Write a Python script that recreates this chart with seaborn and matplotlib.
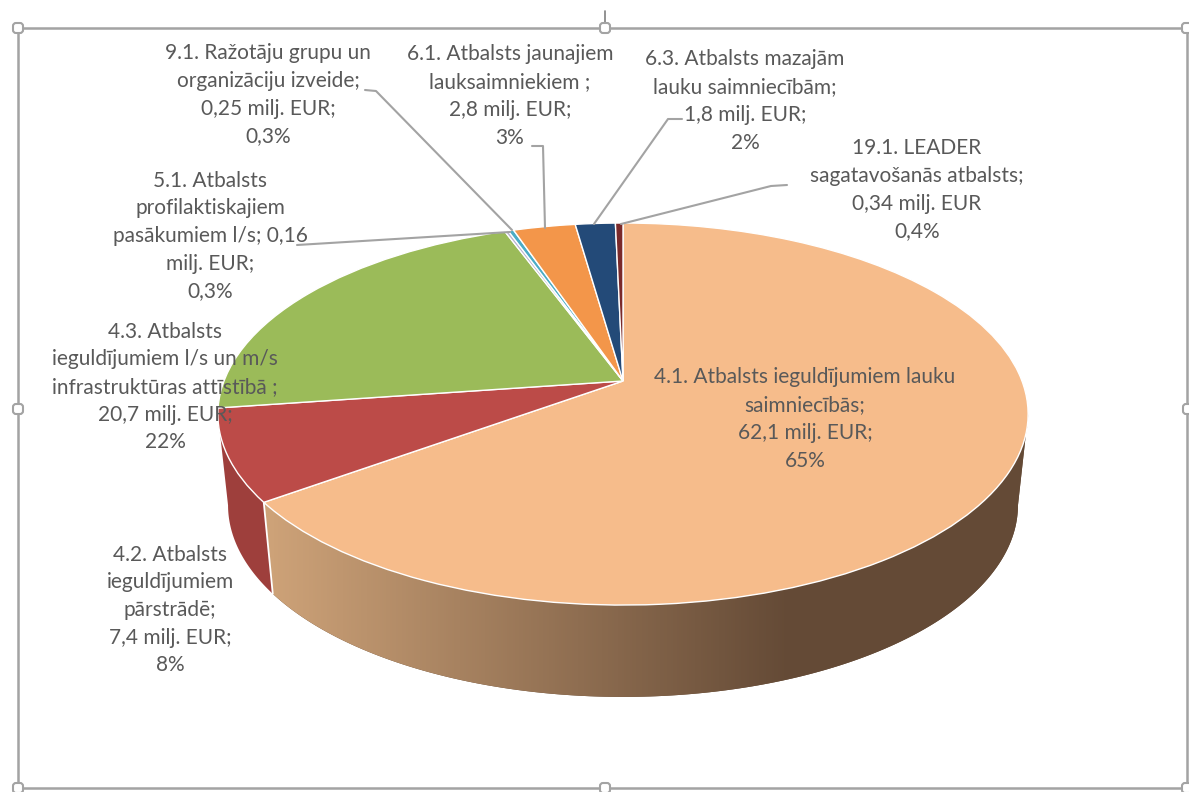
import numpy as np
import matplotlib
matplotlib.use("Agg")
import matplotlib.pyplot as plt
import matplotlib.transforms as mtransforms
from matplotlib.patches import FancyBboxPatch
import seaborn as sns

# Data
categories = ["4.1", "4.2", "4.3", "5.1", "9.1", "6.1", "6.3", "19.1"]
values = [62.1, 7.4, 20.7, 0.16, 0.25, 2.8, 1.8, 0.34]
labels = [
    "4.1. Atbalsts ieguldījumiem lauku\nsaimniecībās;\n62,1 milj. EUR;\n65%",
    "4.2. Atbalsts\nieguldījumiem\npārstrādē;\n7,4 milj. EUR;\n8%",
    "4.3. Atbalsts\nieguldījumiem l/s un m/s\ninfrastruktūras attīstībā ;\n20,7 milj. EUR;\n22%",
    "5.1. Atbalsts\nprofilaktiskajiem\npasākumiem l/s; 0,16\nmilj. EUR;\n0,3%",
    "9.1. Ražotāju grupu un\norganizāciju izveide;\n0,25 milj. EUR;\n0,3%",
    "6.1. Atbalsts jaunajiem\nlauksaimniekiem ;\n2,8 milj. EUR;\n3%",
    "6.3. Atbalsts mazajām\nlauku saimniecībām;\n1,8 milj. EUR;\n2%",
    "19.1. LEADER\nsagatavošanās atbalsts;\n0,34 milj. EUR\n0,4%",
]

# Styling
top_colors = ["#F6BC8B", "#BC4B48", "#9BBB59", "#B9B3CF", "#4BACC6", "#F3964A", "#234A78", "#7A2A2A"]
wall_red = "#9E3F3C"
label_pos = [(805, 419), (170, 610), (165, 387), (210, 236), (268, 95), (510, 96), (745, 101), (917, 190)]
leaders = [
    [(365, 90), (376, 91), (512, 230)],
    [(532, 146), (543, 146), (545, 228)],
    [(682, 119), (668, 119), (594, 224)],
    [(787, 185), (771, 186), (621, 224)],
    [(297, 245), (510, 232)],
]
handles = [(18, 28), (605, 28), (1187, 28), (18, 409), (1188, 409), (18, 788), (605, 788), (1187, 788)]
grey = "#A3A3A3"


class Tilted(mtransforms.Transform):
    # unit pie -> picture, keeps the perspective of the 3D pie
    input_dims = 2
    output_dims = 2

    def __init__(self, a, b, y0, k=0.173):
        super().__init__()
        self.a, self.b, self.y0, self.k = a, b, y0, k

    def transform_non_affine(self, pts):
        pts = np.asarray(pts, dtype=float)
        d = 1 + self.k * pts[:, 1]
        return np.column_stack([623 + self.a * pts[:, 0] / d, self.y0 - self.b * pts[:, 1] / d])


def wall(t1, t2):
    # outline of the side wall between two clockwise angles
    rad = np.radians(np.linspace(t1, t2, 200))
    unit = np.column_stack([np.sin(rad), np.cos(rad)])
    return np.vstack([top.transform_non_affine(unit), bottom.transform_non_affine(unit[::-1])])


sns.set_theme(style="white")
plt.rcParams["font.family"] = ["Lato", "DejaVu Sans"]

fig = plt.figure(figsize=(11.89, 7.92), dpi=100)
ax = fig.add_axes([0, 0, 1, 1])

top = Tilted(399, 185.3, 381)
bottom = Tilted(389, 186, 472)

wedges, _ = ax.pie(values, colors=top_colors, startangle=90, counterclock=False,
                   wedgeprops={"edgecolor": "white", "linewidth": 1.0, "zorder": 3})
for w in wedges:
    w.set_transform(top + ax.transData)

# Side wall
bounds = np.cumsum(values) / np.sum(values) * 360
shape = wall(100, bounds[0])
poly = ax.fill(shape[:, 0], shape[:, 1], color="#644A36", lw=0, zorder=1)[0]
ramp = sns.blend_palette(["#CDA278", "#644A36"], 256, as_cmap=True)
grad = ax.imshow(np.linspace(200, 1040, 840).reshape(1, -1), cmap=ramp, vmin=272, vmax=790,
                 extent=(200, 1040, 720, 380), aspect="auto", zorder=1.2)
grad.set_clip_path(poly)

shape = wall(bounds[0], 260)
ax.fill(shape[:, 0], shape[:, 1], color=wall_red, lw=0, zorder=1)

ax.set_aspect("auto")
ax.set_xlim(0, 1189)
ax.set_ylim(792, 0)
ax.axis("off")

# white edge between the two visible wall sections
rad = np.radians(bounds[0])
unit = np.array([[np.sin(rad), np.cos(rad)]])
p, q = top.transform_non_affine(unit)[0], bottom.transform_non_affine(unit)[0]
ax.plot([p[0], q[0]], [p[1], q[1]], color="white", lw=1.3, zorder=2)

# Leader lines
for line in leaders:
    xs, ys = zip(*line)
    ax.plot(xs, ys, color=grey, lw=1.5, zorder=4)

# Labels
for text, (x, y) in zip(labels, label_pos):
    ax.text(x, y, text, ha="center", va="center", fontsize=15, color="#595959",
            linespacing=1.48, zorder=5)

# Selection frame
ax.plot([18, 1187, 1187, 18, 18], [28, 28, 788, 788, 28], color=grey, lw=1.8, zorder=0, clip_on=False)
ax.plot([605, 605], [11, 28], color="#7F7F7F", lw=1.2, zorder=0)
for hx, hy in handles:
    ax.add_patch(FancyBboxPatch((hx - 5, hy - 5), 10, 10, boxstyle="round,pad=0,rounding_size=3",
                                fc="white", ec=grey, lw=1.5, zorder=6))

fig.savefig("out.png", dpi=100)
